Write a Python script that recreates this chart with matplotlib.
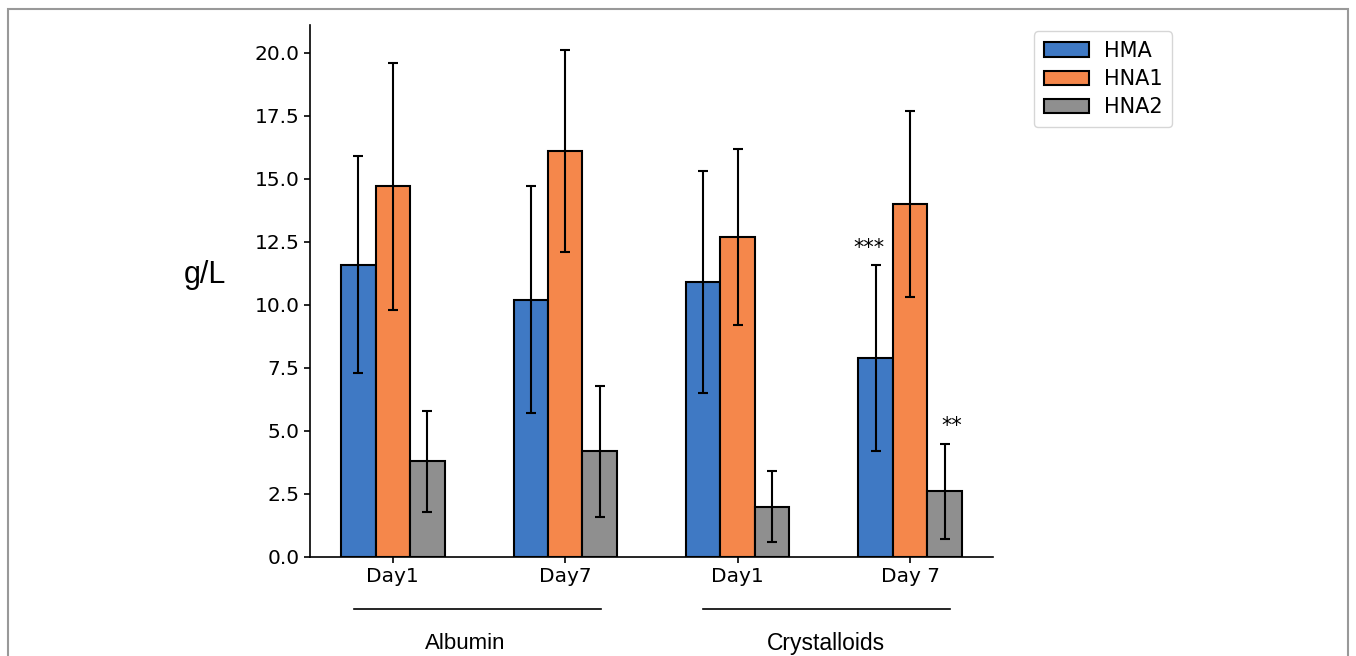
import matplotlib
matplotlib.use("Agg")
import matplotlib.pyplot as plt
import numpy as np
from matplotlib.patches import Rectangle
from matplotlib.lines import Line2D

days = ["Day1", "Day7", "Day1", "Day 7"]
groups = ["Albumin", "Crystalloids"]
series = ["HMA", "HNA1", "HNA2"]
hma = [11.6, 10.2, 10.9, 7.9]
hna1 = [14.7, 16.1, 12.7, 14.0]
hna2 = [3.8, 4.2, 2.0, 2.6]
hma_err = [4.3, 4.5, 4.4, 3.7]
hna1_err = [4.9, 4.0, 3.5, 3.7]
hna2_err = [2.0, 2.6, 1.4, 1.9]
colors = ["#3f79c4", "#f5874b", "#8f8f8f"]

fig = plt.figure(figsize=(13.56, 6.56), dpi=100)
ax = fig.add_axes([0.2286, 0.151, 0.5037, 0.811])

x = np.arange(len(days))
w = 0.2
vals = [hma, hna1, hna2]
errs = [hma_err, hna1_err, hna2_err]
for i, (v, e, c, lab) in enumerate(zip(vals, errs, colors, series)):
    ax.bar(x + (i - 1) * w, v, w, yerr=e, color=c, edgecolor="black",
           linewidth=1.5, label=lab,
           error_kw=dict(ecolor="black", elinewidth=1.5, capsize=3.5, capthick=1.5))

ax.spines["top"].set_visible(False)
ax.spines["right"].set_visible(False)
ax.spines["left"].set_linewidth(1.2)
ax.spines["bottom"].set_linewidth(1.2)
ax.set_xticks(x)
ax.set_xticklabels(days, fontsize=14.5)
ax.set_yticks(np.arange(0, 20.1, 2.5))
ax.set_yticklabels([f"{t:.1f}" for t in np.arange(0, 20.1, 2.5)], fontsize=14.5)
ax.tick_params(width=1.2, length=4)

ax.set_ylabel("g/L", fontsize=22, rotation=0, family="Liberation Sans", va="center", ha="center")
ax.yaxis.set_label_coords(-0.154, 0.53)

# significance marks
ax.text(x[3] - w - 0.04, 12.0, "***", ha="center", va="baseline", fontsize=15)
ax.text(x[3] + w + 0.04, 4.95, "**", ha="center", va="baseline", fontsize=15)

# group lines and labels
trans = ax.get_xaxis_transform()
ax.add_line(Line2D([-0.227, 1.21], [-0.098, -0.098], transform=trans, color="black",
                   linewidth=1.2, clip_on=False))
ax.add_line(Line2D([1.80, 3.23], [-0.098, -0.098], transform=trans, color="black",
                   linewidth=1.2, clip_on=False))
ax.text(0.42, -0.163, groups[0], transform=trans, ha="center", va="center",
        fontsize=16, family="Liberation Sans")
ax.text(2.51, -0.163, groups[1], transform=trans, ha="center", va="center",
        fontsize=16.5, family="Liberation Sans")

fig.legend(loc="upper left", bbox_to_anchor=(0.755, 0.968), fontsize=15,
           frameon=True, fancybox=True, handlelength=2.2, borderpad=0.45,
           labelspacing=0.4, handletextpad=0.7)

fig.patches.append(Rectangle((8 / 1356, -0.1), 1340 / 1356, 1.1 - 9 / 656,
                             transform=fig.transFigure, fill=False,
                             edgecolor="#999999", linewidth=1.5))

fig.savefig("out.png", dpi=100)
